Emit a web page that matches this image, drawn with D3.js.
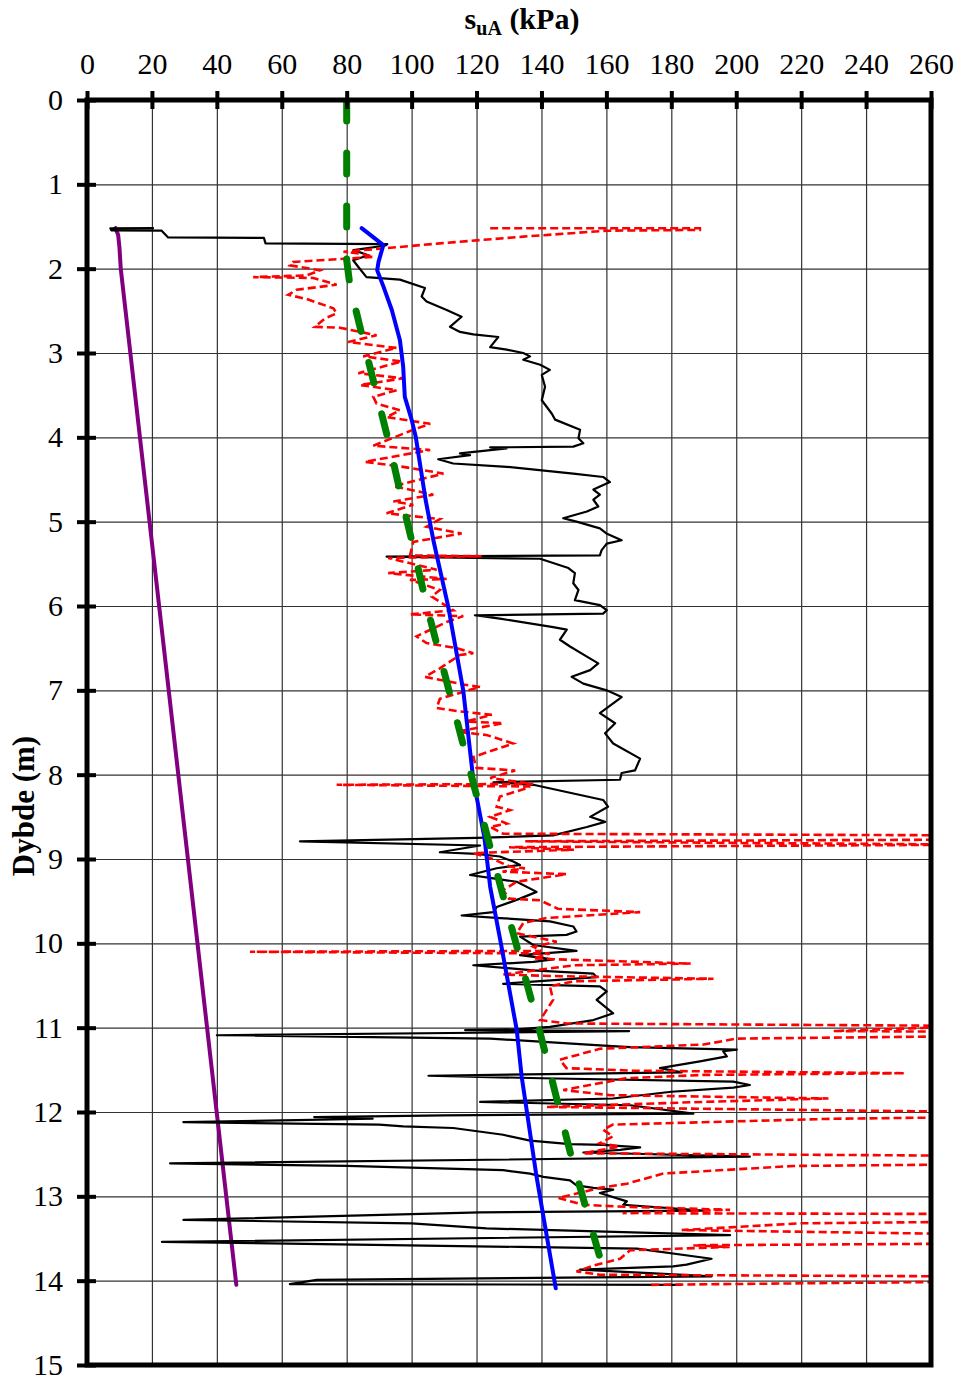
<!DOCTYPE html>
<html>
<head>
<meta charset="utf-8">
<script src="https://cdn.jsdelivr.net/npm/d3@7"></script>
<style>
  body { margin: 0; background: #fff; }
  svg text { font-family: "Liberation Serif", "Times New Roman", serif; }
</style>
</head>
<body>
<div id="chart"></div>
<script>
// Depth (m) / shear strength (kPa) pairs
const xTicks = [0, 20, 40, 60, 80, 100, 120, 140, 160, 180, 200, 220, 240, 260];
const yTicks = [0, 1, 2, 3, 4, 5, 6, 7, 8, 9, 10, 11, 12, 13, 14, 15];

// black trace (measured)
const coneProfile = [
  [1.52, 20.6], [1.522, 7.2], [1.545, 7.5], [1.55, 23], [1.63, 25], [1.635, 54.5], [1.70, 55], [1.71, 92.5], [1.725, 92],
  [1.78, 82.1], [1.84, 86.7], [1.90, 82], [1.98, 83.6], [2.10, 86.1], [2.11, 89.2], [2.13, 96.4], [2.23, 104.1], [2.33, 103.1],
  [2.39, 104.6], [2.49, 110.8], [2.57, 115.4], [2.69, 111.8], [2.75, 114.9], [2.78, 119], [2.81, 126.7], [2.93, 124.2],
  [2.96, 129.3], [3.0, 134.4], [3.04, 136.5], [3.08, 134.4], [3.14, 139.6], [3.2, 142.6], [3.26, 140.1], [3.40, 141.1],
  [3.56, 140.1], [3.72, 143.2], [3.79, 144.2], [3.91, 151.9], [4.01, 151.4], [4.07, 152.9], [4.11, 149.8], [4.12, 124.2],
  [4.13, 129.3], [4.19, 114.9], [4.21, 118], [4.26, 108.2], [4.31, 112.8], [4.35, 129.3], [4.43, 149.8], [4.47, 159],
  [4.53, 161.1], [4.62, 156], [4.68, 158], [4.74, 156], [4.82, 157.5], [4.88, 154], [4.96, 146.7], [5.0, 150.8], [5.08, 158],
  [5.14, 160], [5.22, 164.7], [5.26, 160.1], [5.34, 158.5], [5.40, 158], [5.415, 92.3], [5.44, 139.6], [5.55, 148.3],
  [5.61, 150.3], [5.73, 149.8], [5.81, 151.4], [5.93, 150.3], [5.99, 158], [6.05, 160.1], [6.09, 159], [6.11, 119.5],
  [6.15, 127.2], [6.25, 143.6], [6.28, 147.8], [6.4, 145.7], [6.48, 148.8], [6.6, 154], [6.68, 157.5], [6.76, 155],
  [6.84, 149.3], [6.92, 152.9], [7.0, 160.1], [7.08, 164.7], [7.27, 158], [7.39, 162.7], [7.51, 159.6], [7.63, 162.1],
  [7.81, 170.4], [7.95, 168.8], [7.98, 164.7], [8.06, 164.2], [8.09, 125.2], [8.12, 137.5], [8.3, 159], [8.38, 160.5],
  [8.5, 155], [8.56, 159.6], [8.62, 154], [8.72, 143.6], [8.75, 120], [8.79, 65.6], [8.84, 121.1], [8.92, 108.7],
  [8.94, 120], [8.97, 127.2], [9.03, 131.3], [9.07, 133.4], [9.11, 126.2], [9.19, 118], [9.23, 125.2], [9.27, 132.4],
  [9.39, 138.5], [9.47, 133.4], [9.57, 126.2], [9.63, 125.2], [9.67, 115.4], [9.70, 127.2], [9.74, 142.6], [9.80, 149.8],
  [9.86, 150.8], [9.90, 147.7], [9.92, 133.4], [10.02, 137.5], [10.09, 150.8], [10.14, 133.4], [10.19, 143.6],
  [10.22, 137.5], [10.26, 119], [10.32, 137.4], [10.36, 156], [10.40, 157], [10.48, 128.2], [10.51, 158], [10.57, 160.1],
  [10.67, 157], [10.83, 162.1], [10.91, 156], [10.99, 142.6], [11.02, 132.4], [11.03, 116.5], [11.04, 167], [11.06, 120],
  [11.09, 40], [11.13, 124.2], [11.21, 158], [11.23, 167.3], [11.26, 200.2], [11.28, 196], [11.34, 197.1], [11.40, 188.8],
  [11.48, 176.5], [11.53, 183.2], [11.57, 105.2], [11.6, 140], [11.64, 199.1], [11.68, 204.2], [11.71, 199.1],
  [11.76, 180], [11.84, 162], [11.88, 121.1], [11.92, 167.3], [12.02, 186.8], [12.04, 110], [12.06, 70], [12.08, 88],
  [12.10, 60], [12.12, 29.7], [12.15, 90], [12.17, 97.4], [12.19, 112.8], [12.27, 128.2], [12.34, 136.5], [12.38, 148.8],
  [12.39, 159], [12.42, 170.4], [12.45, 164.2], [12.48, 152.9], [12.53, 204.2], [12.61, 25.6], [12.64, 80], [12.69, 128.2],
  [12.73, 136.5], [12.77, 140.6], [12.81, 148.8], [12.87, 150.8], [12.9, 156], [12.92, 162.1], [12.96, 158], [13.06, 166.3],
  [13.10, 165.2], [13.17, 189.9], [13.19, 121.1], [13.28, 29.7], [13.32, 100], [13.38, 123.1], [13.46, 198.1],
  [13.54, 23.1], [13.6, 133.4], [13.62, 169.4], [13.74, 192.4], [13.81, 184.7], [13.83, 180.6], [13.87, 151.9],
  [13.91, 173.3], [13.95, 192.4], [13.99, 70.8], [14.04, 62.5], [14.05, 183.2]
];

// red dashed trace (values past 260 run off the frame)
const dashedProfile = [
  [1.52, 124.2], [1.52, 188.8], [1.54, 188.8], [1.55, 160], [1.62, 134.4], [1.70, 108.7], [1.76, 91.3], [1.80, 79],
  [1.82, 84.1], [1.86, 88.2], [1.92, 63.5], [1.96, 62.5], [2.02, 71.8], [2.08, 67.7], [2.10, 51.2], [2.11, 69.7],
  [2.19, 76.9], [2.25, 64.6], [2.31, 62], [2.36, 67.7], [2.47, 75.9], [2.53, 76.9], [2.59, 73.3], [2.69, 70.2],
  [2.70, 77.9], [2.79, 89.2], [2.87, 80.5], [2.94, 95.4], [3.04, 85.1], [3.10, 96.9], [3.24, 83.6], [3.30, 97.4],
  [3.38, 84.1], [3.44, 95.4], [3.52, 88.2], [3.60, 89.2], [3.68, 96.4], [3.76, 92.3], [3.84, 105.7], [3.91, 100.5],
  [4.10, 88.2], [4.15, 105.7], [4.29, 85.6], [4.35, 97.4], [4.43, 109.8], [4.58, 94.4], [4.68, 106.7], [4.76, 94.4],
  [4.80, 100.5], [4.90, 92.3], [4.97, 108.7], [5.06, 104.6], [5.14, 115.4], [5.24, 100.5], [5.40, 99.5], [5.41, 121.6],
  [5.43, 92.8], [5.57, 107.7], [5.61, 92.8], [5.68, 110.8], [5.69, 99.5], [5.81, 108.7], [5.89, 106.2], [6.05, 112.8],
  [6.10, 99.5], [6.12, 115.9], [6.19, 110.8], [6.36, 101.5], [6.44, 104.6], [6.50, 113.9], [6.56, 119], [6.58, 114.9],
  [6.74, 108.7], [6.84, 104.1], [6.93, 115.9], [6.96, 121.1], [7.1, 108.7], [7.21, 107.7], [7.25, 114.9], [7.29, 124.7],
  [7.37, 116.9], [7.39, 128.2], [7.49, 113.9], [7.53, 123.1], [7.63, 131.3], [7.79, 119], [7.92, 120], [7.95, 131.9],
  [8.04, 124.2], [8.11, 137.4], [8.12, 76.9], [8.14, 136.5], [8.16, 135.4], [8.26, 127.2], [8.38, 126.2], [8.42, 130.3],
  [8.5, 124.2], [8.58, 129.3], [8.62, 124.2], [8.70, 128.2], [8.72, 275], [8.77, 275], [8.79, 135], [8.83, 275],
  [8.86, 130], [8.89, 150], [8.93, 119], [9.0, 125], [9.09, 130.3], [9.11, 134.9], [9.15, 128], [9.18, 147.7],
  [9.27, 132.4], [9.37, 128.2], [9.47, 130], [9.49, 139.6], [9.59, 145], [9.63, 170.4], [9.70, 141.6], [9.76, 134.4],
  [9.88, 132.4], [9.98, 144.7], [10.04, 137.5], [10.09, 140], [10.10, 50.2], [10.12, 142.6], [10.18, 137.5],
  [10.24, 186], [10.26, 150], [10.37, 128.2], [10.39, 146], [10.42, 193], [10.45, 150], [10.51, 142.6], [10.67, 143.6],
  [10.91, 139.6], [10.95, 147.7], [10.98, 275], [11.04, 229.8], [11.05, 275], [11.10, 275], [11.13, 200], [11.2, 190],
  [11.25, 158], [11.38, 145.7], [11.48, 147.7], [11.51, 168.3], [11.54, 252], [11.56, 190], [11.6, 166], [11.74, 146.7],
  [11.8, 161], [11.84, 228.4], [11.88, 190], [11.94, 141.6], [12.0, 275], [12.06, 275], [12.08, 230], [12.15, 162],
  [12.21, 159], [12.29, 162], [12.37, 158], [12.41, 164], [12.49, 152.9], [12.52, 275], [12.62, 275], [12.64, 217.6],
  [12.73, 177.5], [12.85, 166.3], [12.9, 158], [13.02, 145.2], [13.1, 153], [13.12, 163], [13.16, 198.1], [13.2, 165],
  [13.21, 275], [13.3, 275], [13.32, 219.7], [13.4, 183.2], [13.45, 275], [13.56, 275], [13.58, 186.8], [13.6, 198],
  [13.64, 167.3], [13.74, 164.2], [13.81, 157], [13.89, 150.8], [13.93, 158], [13.95, 275], [14.01, 275], [14.05, 173.4]
];

// blue smooth line
const blueProfile = [
  [1.52, 84.6], [1.72, 91.3], [1.92, 89.8], [2.02, 89.4], [2.21, 91.3], [2.49, 93.9], [2.85, 96.4], [3.16, 97.4],
  [3.52, 97.9], [3.79, 100], [4.0, 101.3], [4.74, 104.3], [5.22, 106.7], [6.01, 111.3], [7.0, 115.9], [8.06, 119],
  [8.74, 122.4], [9.33, 124.2], [10.0, 127.5], [11.03, 132.4], [11.58, 133.9], [12.77, 138.5], [14.09, 144.4]
];

// green dashed design line
const greenProfile = [
  [0, 80], [1.9, 80], [2.2, 81], [2.85, 85.1], [3.48, 89.2], [4.11, 93.3], [4.72, 96.9], [5.3, 100.5], [5.99, 104.6],
  [7, 111.5], [8.48, 121.6], [9.5, 128.6], [10.97, 139], [12.5, 149], [14.01, 160.1]
];

// purple line
const purpleProfile = [[1.52, 8.8], [1.6, 9.6], [1.75, 10.0], [2.0, 10.4], [14.05, 46]];

const svgWidth = 959, svgHeight = 1375;
const plotLeft = 87, plotRight = 931, plotTop = 100, plotBottom = 1365;

const svg = d3.select("#chart").append("svg")
    .attr("width", svgWidth)
    .attr("height", svgHeight);

const x = d3.scaleLinear().domain([0, 260]).range([plotLeft, plotRight]);
const y = d3.scaleLinear().domain([0, 15]).range([plotTop, plotBottom]);

// clip area for the data lines
svg.append("clipPath").attr("id", "plot-clip")
  .append("rect")
    .attr("x", plotLeft).attr("y", plotTop)
    .attr("width", plotRight - plotLeft).attr("height", plotBottom - plotTop);

// grid
svg.append("g")
    .attr("transform", `translate(0,${plotTop})`)
    .call(d3.axisTop(x).tickValues(xTicks).tickSize(-(plotBottom - plotTop)).tickFormat(""))
    .call(g => g.select(".domain").remove())
    .call(g => g.selectAll("line").attr("stroke", "#333").attr("stroke-width", 1.2));

svg.append("g")
    .attr("transform", `translate(${plotLeft},0)`)
    .call(d3.axisLeft(y).tickValues(yTicks).tickSize(-(plotRight - plotLeft)).tickFormat(""))
    .call(g => g.select(".domain").remove())
    .call(g => g.selectAll("line").attr("stroke", "#333").attr("stroke-width", 1.2));

// data lines
const line = d3.line().x(d => x(d[1])).y(d => y(d[0]));
const plot = svg.append("g").attr("clip-path", "url(#plot-clip)");

plot.append("path").datum(purpleProfile)
    .attr("d", line).attr("fill", "none")
    .attr("stroke", "#800080").attr("stroke-width", 4).attr("stroke-linecap", "round");

plot.append("path").datum(coneProfile)
    .attr("d", line).attr("fill", "none")
    .attr("stroke", "#000").attr("stroke-width", 2.2).attr("stroke-linejoin", "round");

plot.append("path").datum(dashedProfile)
    .attr("d", line).attr("fill", "none")
    .attr("stroke", "#ff0000").attr("stroke-width", 2.6)
    .attr("stroke-dasharray", "8,4");

plot.append("path").datum(blueProfile)
    .attr("d", line).attr("fill", "none")
    .attr("stroke", "#0000ff").attr("stroke-width", 4).attr("stroke-linecap", "round")
    .attr("stroke-linejoin", "round");

plot.append("path").datum(greenProfile)
    .attr("d", line).attr("fill", "none")
    .attr("stroke", "#008000").attr("stroke-width", 7).attr("stroke-linecap", "round")
    .attr("stroke-dasharray", "21,32");

// frame
svg.append("rect")
    .attr("x", plotLeft).attr("y", plotTop)
    .attr("width", plotRight - plotLeft).attr("height", plotBottom - plotTop)
    .attr("fill", "none").attr("stroke", "#000").attr("stroke-width", 5);

// top axis with labels, ticks crossing the frame
svg.append("g")
    .attr("transform", `translate(0,${plotTop})`)
    .call(d3.axisTop(x).tickValues(xTicks).tickSize(9).tickPadding(17))
    .call(g => g.select(".domain").remove())
    .call(g => g.selectAll(".tick line").attr("y1", 9).attr("stroke-width", 4))
    .call(g => g.selectAll("text").attr("font-size", 30).attr("fill", "#000")
        .attr("font-family", "Liberation Serif"));

// left axis
svg.append("g")
    .attr("transform", `translate(${plotLeft},0)`)
    .call(d3.axisLeft(y).tickValues(yTicks).tickSize(10).tickPadding(14))
    .call(g => g.select(".domain").remove())
    .call(g => g.selectAll(".tick line").attr("x1", 9).attr("stroke-width", 4))
    .call(g => g.selectAll("text").attr("font-size", 30).attr("fill", "#000")
        .attr("font-family", "Liberation Serif"));

// axis titles
const title = svg.append("text")
    .attr("x", 522).attr("y", 29)
    .attr("text-anchor", "middle")
    .attr("font-size", 30).attr("font-weight", "bold");
title.append("tspan").text("s");
title.append("tspan").text("uA").attr("font-size", 20).attr("dy", 6);
title.append("tspan").text(" (kPa)").attr("dy", -6);

svg.append("text")
    .attr("transform", "translate(34,806) rotate(-90)")
    .attr("text-anchor", "middle")
    .attr("font-size", 31).attr("font-weight", "bold")
    .text("Dybde (m)");
</script>
</body>
</html>
